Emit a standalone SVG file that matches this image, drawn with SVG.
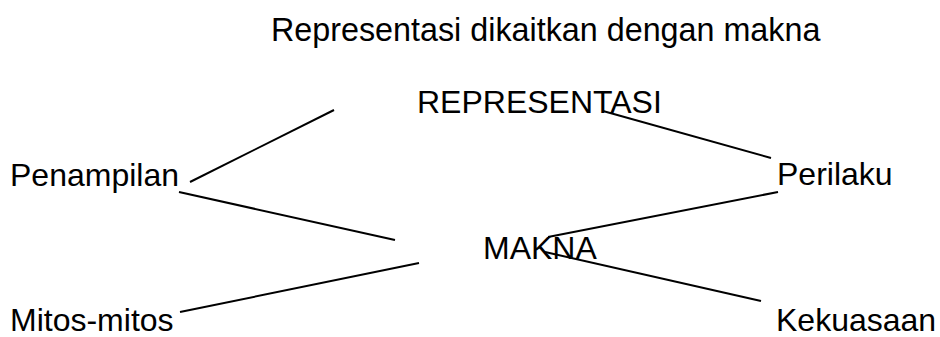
<svg xmlns="http://www.w3.org/2000/svg" width="940" height="337" viewBox="0 0 940 337">
<style>
text{font-family:"Liberation Sans",Arial,sans-serif;font-size:32px;fill:#000}
.title{font-size:32.3px}
.c line{stroke:#000;stroke-width:2;fill:none}
</style>
<rect width="940" height="337" fill="#fff"/>
<g id="title"><text class="title" x="271" y="41">Representasi dikaitkan dengan makna</text></g>
<g id="representasi"><text x="417" y="113">REPRESENTASI</text></g>
<g id="makna"><text x="483" y="259">MAKNA</text></g>
<g id="penampilan"><text x="10" y="186">Penampilan</text></g>
<g id="perilaku"><text x="777" y="185">Perilaku</text></g>
<g id="mitos"><text x="10" y="331">Mitos-mitos</text></g>
<g id="kekuasaan"><text x="776" y="331">Kekuasaan</text></g>
<g id="connectors" class="c">
<line x1="190" y1="182" x2="334" y2="110"/>
<line x1="179" y1="192" x2="395" y2="240"/>
<line x1="180" y1="312" x2="419" y2="263"/>
<line x1="603" y1="111" x2="771" y2="158"/>
<line x1="778" y1="192" x2="548" y2="237"/>
<line x1="545" y1="252" x2="761" y2="301"/>
</g>
</svg>
